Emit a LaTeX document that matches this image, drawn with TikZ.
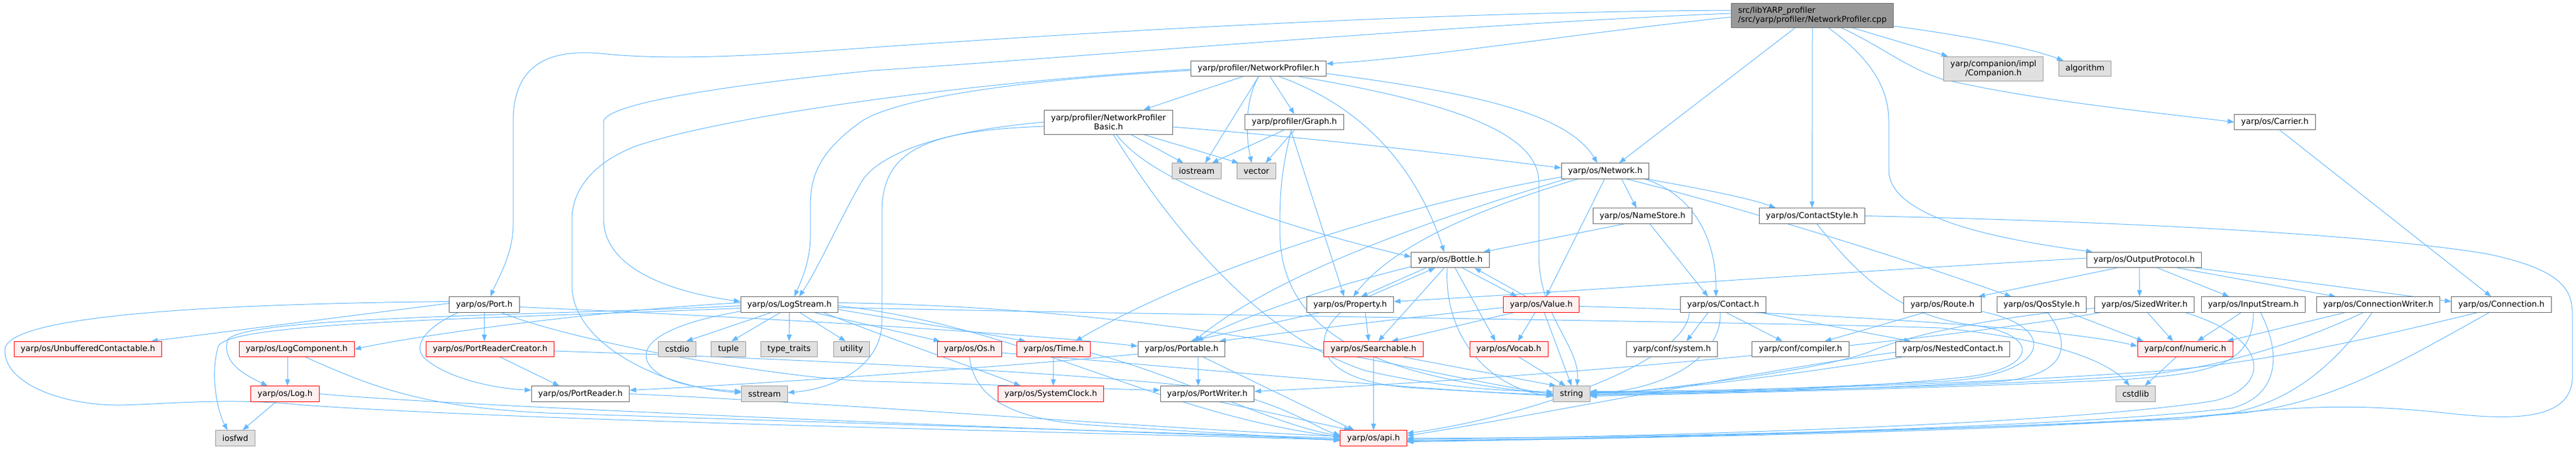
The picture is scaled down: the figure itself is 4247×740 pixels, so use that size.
\documentclass[tikz,border=0pt]{standalone}
\usepackage{fontspec}
\setmainfont{DejaVu Sans}
\usetikzlibrary{arrows.meta,calc}
\definecolor{edgec}{HTML}{63B8FF}
\definecolor{nbord}{HTML}{666666}
\definecolor{rfill}{HTML}{FFF0F0}
\definecolor{gfill}{HTML}{E0E0E0}
\definecolor{gbord}{HTML}{999999}
\definecolor{mfill}{HTML}{999999}
\pgfdeclarelayer{bg}
\pgfsetlayers{bg,main}
\begin{document}
\begin{tikzpicture}[x=0.75pt,y=-0.75pt,
 every node/.style={font=\fontsize{10}{11.5}\selectfont, inner xsep=8.25pt, inner ysep=0pt, minimum height=19pt, line width=0.75pt},
 nb/.style={draw=nbord, fill=white},
 rb/.style={draw=red, fill=rfill},
 gb/.style={draw=gbord, fill=gfill},
 mb/.style={draw=nbord, fill=mfill},
 two/.style={minimum height=30pt, align=center},
 e/.style={draw=edgec, line width=0.75pt, -{Triangle[length=8pt,width=6pt]}},
]
\useasboundingbox (0,0) rectangle (4247,740);
% row 0-5
\node[mb,two,align=left] (main) at (2988,25) {src/libYARP\_profiler\\/src/yarp/profiler/NetworkProfiler.cpp};
\node[gb,two] (comp) at (3286.5,113) {yarp/companion/impl\\/Companion.h};
\node[gb] (algo) at (3437.5,113) {algorithm};
\node[nb] (np) at (2075,113) {yarp/profiler/NetworkProfiler.h};
\node[nb,two] (npb) at (1827.5,201) {yarp/profiler/NetworkProfiler\\Basic.h};
\node[nb] (graph) at (2134,201) {yarp/profiler/Graph.h};
\node[nb] (carrier) at (3750.5,201) {yarp/os/Carrier.h};
\node[gb] (iostream) at (1973,281.5) {iostream};
\node[gb] (vector) at (2071.5,281.5) {vector};
\node[nb] (network) at (2646.5,281.5) {yarp/os/Network.h};
\node[nb] (namestore) at (2708,355.5) {yarp/os/NameStore.h};
\node[nb] (cstyle) at (2987.5,355.5) {yarp/os/ContactStyle.h};
\node[nb] (bottle) at (2391,428) {yarp/os/Bottle.h};
\node[nb] (outproto) at (3535,428) {yarp/os/OutputProtocol.h};
% row 6
\node[nb] (port) at (798.5,501.5) {yarp/os/Port.h};
\node[nb] (logstream) at (1301.5,501.5) {yarp/os/LogStream.h};
\node[nb] (property) at (2226,501.5) {yarp/os/Property.h};
\node[rb] (value) at (2541,501.5) {yarp/os/Value.h};
\node[nb] (contact) at (2841,501.5) {yarp/os/Contact.h};
\node[nb] (route) at (3202.5,501.5) {yarp/os/Route.h};
\node[nb] (qos) at (3366,501.5) {yarp/os/QosStyle.h};
\node[nb] (sizedw) at (3535.5,501.5) {yarp/os/SizedWriter.h};
\node[nb] (inputs) at (3715,501.5) {yarp/os/InputStream.h};
\node[nb] (connw) at (3921,501.5) {yarp/os/ConnectionWriter.h};
\node[nb] (conn) at (4124,501.5) {yarp/os/Connection.h};
% row 7
\node[rb] (unbuf) at (145,575) {yarp/os/UnbufferedContactable.h};
\node[rb] (logcomp) at (489,575) {yarp/os/LogComponent.h};
\node[rb] (prc) at (808,575) {yarp/os/PortReaderCreator.h};
\node[gb] (cstdio) at (1116.5,575) {cstdio};
\node[gb] (tuple) at (1201,575) {tuple};
\node[gb] (typetr) at (1301,575) {type\_traits};
\node[gb] (utility) at (1404,575) {utility};
\node[rb] (os) at (1598.5,575) {yarp/os/Os.h};
\node[rb] (time) at (1737,575) {yarp/os/Time.h};
\node[nb] (portable) at (1948,575) {yarp/os/Portable.h};
\node[rb] (searchable) at (2264.5,575) {yarp/os/Searchable.h};
\node[rb] (vocab) at (2487.5,575) {yarp/os/Vocab.h};
\node[nb] (confsys) at (2756.5,575) {yarp/conf/system.h};
\node[nb] (compiler) at (2968.5,575) {yarp/conf/compiler.h};
\node[nb] (nested) at (3219.5,575) {yarp/os/NestedContact.h};
\node[rb] (numeric) at (3602.7,575) {yarp/conf/numeric.h};
% row 8
\node[rb] (log) at (470,648.5) {yarp/os/Log.h};
\node[nb] (portreader) at (957,648.5) {yarp/os/PortReader.h};
\node[gb] (sstream) at (1260.5,648.5) {sstream};
\node[rb] (sysclock) at (1732.5,648.5) {yarp/os/SystemClock.h};
\node[nb] (portwriter) at (1990.5,648.5) {yarp/os/PortWriter.h};
\node[gb] (string) at (2591,648.5) {string};
\node[gb] (cstdlib) at (3521,648.5) {cstdlib};
% row 9
\node[gb] (iosfwd) at (388,721.5) {iosfwd};
\node[rb] (api) at (2264.5,721.5) {yarp/os/api.h};

\begin{pgfonlayer}{bg}
% main
\draw[e] ($(main.west)+(0,3)$) .. controls (2600,55) and (2350,95) .. ($(np.east)+(0,-8)$);
\draw[e] ($(main.west)+(0,-8)$) .. controls (2300,20) and (1700,60) .. (1440,78) .. controls (1250,92) and (1100,100) .. (990,88) .. controls (900,80) and (846,110) .. (846,200) -- (846,370) .. controls (846,420) and (820,460) .. ($(port.north)+(10,0)$);
\draw[e] ($(main.west)+(0,-3)$) .. controls (2400,40) and (1700,100) .. (1440,116) .. controls (1200,140) and (1000,170) .. (995,200) -- (995,360) .. controls (995,440) and (1100,480) .. ($(logstream.west)+(0,-5)$);
\draw[e] ($(main.south)+(-28,0)$) -- ($(network.north)+(23,0)$);
\draw[e] (main.south) -- (cstyle.north);
\draw[e] ($(main.south)+(65,0)$) -- ($(comp.north)+(-75,0)$);
\draw[e] ($(main.east)+(0,18)$) .. controls (3250,60) and (3350,80) .. ($(algo.north west)+(8,0)$);
\draw[e] ($(main.south)+(47,0)$) .. controls (3100,75) and (3140,110) .. (3201,130) .. controls (3350,165) and (3550,185) .. (carrier.west);
\draw[e] ($(main.south)+(26,0)$) .. controls (3090,100) and (3114,150) .. (3114,200) -- (3114,280) .. controls (3114,360) and (3300,395) .. ($(outproto.north west)+(10,0)$);
% np
\draw[e] ($(np.south)+(-26,0)$) -- ($(npb.north)+(58,0)$);
\draw[e] (np.south) -- ($(iostream.north)+(14,0)$);
\draw[e] (np.south) .. controls (2050,170) and (2055,230) .. ($(vector.north)+(-8,0)$);
\draw[e] ($(np.south)+(19,0)$) -- (graph.north);
\draw[e] ($(np.west)+(0,3)$) .. controls (1700,130) and (1480,160) .. (1420,200) .. controls (1350,250) and (1336,290) .. (1336,340) -- (1336,390) .. controls (1336,430) and (1320,465) .. ($(logstream.north)+(8,0)$);
\draw[e] ($(np.west)+(0,1)$) .. controls (1600,135) and (1200,190) .. (1050,240) .. controls (970,270) and (943,320) .. (943,360) -- (943,470) .. controls (943,570) and (1100,640) .. ($(sstream.west)+(0,-2)$);
\draw[e] ($(np.south)+(34,0)$) .. controls (2260,180) and (2340,290) .. ($(bottle.north)+(-10,0)$);
\draw[e] ($(np.east)+(0,8)$) .. controls (2400,150) and (2580,180) .. ($(network.north)+(-13,0)$);
\draw[e] ($(np.south)+(67,0)$) .. controls (2400,170) and (2537,220) .. (2537,300) -- (2537,420) .. controls (2537,520) and (2605,570) .. ($(string.north)+(9,0)$);
% npb
\draw[e] ($(npb.south)+(37,0)$) -- ($(iostream.north)+(-22,0)$);
\draw[e] ($(npb.south)+(58,0)$) -- ($(vector.north west)+(3,0)$);
\draw[e] (npb.west) .. controls (1560,215) and (1450,250) .. (1420,300) .. controls (1380,370) and (1350,440) .. ($(logstream.north)+(16,0)$);
\draw[e] ($(npb.west)+(0,7)$) .. controls (1520,215) and (1454,250) .. (1454,350) -- (1454,530) .. controls (1454,600) and (1380,640) .. ($(sstream.east)+(0,-2)$);
\draw[e] ($(npb.east)+(0,8)$) .. controls (2200,230) and (2400,255) .. ($(network.west)+(0,-5)$);
\draw[e] ($(npb.south)+(13,0)$) .. controls (1900,300) and (2100,370) .. ($(bottle.west)+(0,-5)$);
\draw[e] ($(npb.south)+(8,0)$) .. controls (1960,420) and (2100,560) .. (2250,610) .. controls (2380,640) and (2480,643) .. ($(string.west)+(0,-3)$);
% graph
\draw[e] ($(graph.south)+(-17,0)$) -- ($(iostream.north)+(25,0)$);
\draw[e] (graph.south) -- ($(vector.north)+(15,0)$);
\draw[e] ($(graph.south)+(-6,0)$) -- ($(property.north)+(-10,0)$);
\draw[e] ($(graph.south)+(-5,0)$) .. controls (2110,290) and (2110,330) .. (2110,380) .. controls (2110,540) and (2250,620) .. (string.west);
% carrier
\draw[e] ($(carrier.south)+(8,0)$) -- ($(conn.north)+(-17,0)$);
% network
\draw[e] ($(network.south)+(27,0)$) -- ($(namestore.north)+(-10,0)$);
\draw[e] ($(network.south)+(-1,0)$) -- ($(value.north)+(8,0)$);
\draw[e] ($(network.south)+(-45,0)$) .. controls (2450,340) and (2300,400) .. ($(property.north)+(5,0)$);
\draw[e] ($(network.south)+(-65,0)$) .. controls (2400,350) and (2120,440) .. ($(portable.north)+(20,0)$);
\draw[e] ($(network.west)+(0,10)$) .. controls (2350,330) and (2000,430) .. ($(time.north)+(36,0)$);
\draw[e] ($(network.south east)+(-5,0)$) .. controls (2800,310) and (2880,325) .. ($(cstyle.north)+(-60,0)$);
\draw[e] ($(network.south)+(35,0)$) .. controls (2900,350) and (3150,430) .. ($(qos.north)+(-50,0)$);
\draw[e] ($(network.south east)+(-8,0)$) .. controls (2790,320) and (2830,390) .. ($(contact.north)+(-12,0)$);
% namestore
\draw[e] ($(namestore.south)+(-30,0)$) -- ($(bottle.north east)+(-10,0)$);
\draw[e] ($(namestore.south)+(12,0)$) -- ($(contact.north)+(-25,0)$);
% cstyle
\draw[e] ($(cstyle.south)+(8,0)$) .. controls (3060,450) and (3130,520) .. (3250,535) .. controls (3370,550) and (3360,610) .. (3230,622) .. controls (3000,645) and (2750,648) .. ($(string.east)+(0,-2)$);
\draw[e] (cstyle.east) .. controls (3500,365) and (3900,385) .. (4100,418) .. controls (4230,445) and (4241,480) .. (4241,520) -- (4241,620) .. controls (4241,690) and (4150,692) .. (4050,682) .. controls (3920,668) and (3820,662) .. (3600,690) .. controls (3100,712) and (2600,722) .. (api.east);
% outproto
\draw[e] ($(outproto.west)+(0,-3)$) .. controls (3000,450) and (2600,480) .. ($(property.east)+(0,-5)$);
\draw[e] ($(outproto.south)+(-45,0)$) -- ($(route.north east)+(-5,0)$);
\draw[e] ($(outproto.south)+(-8,0)$) -- ($(sizedw.north)+(-8,0)$);
\draw[e] ($(outproto.south)+(22,0)$) -- ($(inputs.north)+(-40,0)$);
\draw[e] ($(outproto.south)+(55,0)$) -- ($(connw.north)+(-70,0)$);
\draw[e] ($(outproto.south east)+(-10,0)$) -- ($(conn.west)+(0,-5)$);
% port
\draw[e] ($(port.west)+(0,-2)$) -- ($(unbuf.north east)+(-18,0)$);
\draw[e] (port.south) -- ($(prc.north)+(-9.5,0)$);
\draw[e] ($(port.west)+(0,-5)$) .. controls (400,500) and (15,515) .. (8,575) .. controls (5,630) and (100,668) .. (200,667) .. controls (300,664) and (380,655) .. (500,667) .. controls (900,695) and (1800,712) .. ($(api.west)+(0,3)$);
\draw[e] ($(port.south west)+(15,0)$) .. controls (700,540) and (680,570) .. (700,590) .. controls (740,625) and (820,640) .. ($(portreader.west)+(0,-6)$);
\draw[e] ($(port.south east)+(-30,0)$) .. controls (950,565) and (1300,625) .. (1440,628) .. controls (1600,632) and (1800,640) .. ($(portwriter.west)+(0,-6)$);
\draw[e] ($(port.east)+(0,4)$) .. controls (1300,525) and (1700,550) .. ($(portable.west)+(0,-5)$);
% logstream
\draw[e] ($(logstream.south)+(-30,0)$) -- ($(cstdio.north)+(15,0)$);
\draw[e] ($(logstream.south)+(-15,0)$) -- ($(tuple.north)+(5,0)$);
\draw[e] (logstream.south) -- (typetr.north);
\draw[e] ($(logstream.south)+(17,0)$) -- ($(utility.north)+(-10,0)$);
\draw[e] ($(logstream.south west)+(0,-2)$) .. controls (1090,535) and (1050,570) .. (1070,600) .. controls (1090,630) and (1150,640) .. ($(sstream.west)+(0,-4)$);
\draw[e] ($(logstream.west)+(0,-3)$) .. controls (1000,510) and (700,550) .. (logcomp.east);
\draw[e] ($(logstream.west)+(0,2)$) .. controls (900,520) and (400,520) .. (375,560) .. controls (365,600) and (410,620) .. ($(log.north)+(-29,0)$);
\draw[e] ($(logstream.west)+(0,6)$) .. controls (800,525) and (380,530) .. (360,570) .. controls (345,620) and (360,680) .. ($(iosfwd.north)+(-13,0)$);
\draw[e] ($(logstream.south east)+(-40,0)$) -- ($(os.north west)+(5,0)$);
\draw[e] ($(logstream.east)+(0,8)$) .. controls (1500,530) and (1600,545) .. ($(time.north west)+(15,0)$);
\draw[e] ($(logstream.south east)+(-25,0)$) .. controls (1500,570) and (1620,610) .. ($(sysclock.north)+(-50,0)$);
\draw[e] ($(logstream.east)+(0,-3)$) .. controls (1800,505) and (2100,560) .. (2300,600) .. controls (2420,625) and (2500,640) .. ($(string.west)+(0,1)$);
\draw[e] ($(logstream.east)+(0,2)$) .. controls (1700,540) and (1900,680) .. ($(api.west)+(0,-2)$);
\draw[e] ($(logstream.east)+(0,5)$) .. controls (2000,520) and (2900,530) .. (3200,540) .. controls (3400,560) and (3480,600) .. ($(cstdlib.north)+(-10,0)$);
% logcomp, log
\draw[e] ($(logcomp.south)+(-15,0)$) -- ($(log.north)+(4,0)$);
\draw[e] ($(logcomp.south)+(15,0)$) .. controls (620,640) and (700,670) .. (900,680) .. controls (1500,700) and (1900,712) .. (api.west);
\draw[e] ($(log.south)+(-15,0)$) -- ($(iosfwd.north)+(12,0)$);
\draw[e] (log.east) .. controls (700,665) and (1500,700) .. ($(api.west)+(0,2)$);
% prc, portreader
\draw[e] ($(prc.south)+(17,0)$) -- ($(portreader.north)+(-35,0)$);
\draw[e] ($(prc.east)+(0,3)$) .. controls (1300,590) and (1800,615) .. (2000,640) .. controls (2120,665) and (2170,705) .. ($(api.west)+(0,-5)$);
\draw[e] (portreader.east) .. controls (1400,665) and (1900,705) .. ($(api.west)+(0,-3)$);
% portable, portwriter
\draw[e] ($(portable.south)+(27,0)$) -- ($(portwriter.north)+(-15,0)$);
\draw[e] ($(portable.west)+(0,8)$) .. controls (1700,600) and (1300,630) .. ($(portreader.east)+(0,-6)$);
\draw[e] ($(portable.south)+(36,0)$) -- ($(api.north)+(-32,0)$);
\draw[e] ($(portwriter.south)+(20,0)$) -- ($(api.north)+(-38,0)$);
% time, os
\draw[e] (time.south) -- ($(sysclock.north)+(4,0)$);
\draw[e] ($(time.east)+(0,6)$) .. controls (1950,620) and (2100,700) .. ($(api.west)+(0,-4)$);
\draw[e] (os.south) .. controls (1605,645) and (1650,690) .. (1800,700) .. controls (1950,710) and (2100,718) .. ($(api.west)+(0,4)$);
\draw[e] ($(os.east)+(0,6)$) .. controls (1900,600) and (2300,640) .. ($(string.west)+(0,3)$);
% property, bottle
\draw[e] ($(property.north)+(30,0)$) -- ($(bottle.south)+(-25,0)$);
\draw[e] ($(bottle.south)+(-40,0)$) -- ($(property.north)+(18,0)$);
\draw[e] ($(property.south)+(25,0)$) -- ($(searchable.north)+(-8,0)$);
\draw[e] ($(property.south)+(-16,0)$) .. controls (2160,560) and (2170,625) .. (2320,638) .. controls (2430,645) and (2500,648) .. ($(string.west)+(0,2)$);
\draw[e] ($(property.south)+(-50,0)$) -- ($(portable.north)+(15,0)$);
\draw[e] ($(bottle.south)+(-10,0)$) -- ($(searchable.north)+(8,0)$);
\draw[e] ($(bottle.south)+(20,0)$) -- ($(value.north)+(-40,0)$);
\draw[e] ($(bottle.south)+(8,0)$) -- ($(vocab.north)+(-22,0)$);
\draw[e] ($(bottle.south)+(-5,0)$) .. controls (2380,560) and (2460,640) .. ($(string.west)+(0,4)$);
\draw[e] ($(bottle.south west)+(0,-2)$) .. controls (2200,470) and (2050,520) .. ($(portable.north)+(25,0)$);
% value
\draw[e] ($(value.north)+(-25,0)$) -- ($(bottle.south)+(40,0)$);
\draw[e] ($(value.south)+(-45,0)$) -- ($(searchable.north)+(30,0)$);
\draw[e] ($(value.south)+(-10,0)$) -- ($(vocab.north)+(15,0)$);
\draw[e] ($(value.south)+(5,0)$) -- (string.north);
\draw[e] ($(value.west)+(0,5)$) .. controls (2300,525) and (2100,550) .. ($(portable.north east)+(-10,0)$);
\draw[e] ($(value.east)+(0,3)$) .. controls (3000,515) and (3400,540) .. ($(numeric.west)+(0,-5)$);
% searchable, vocab
\draw[e] (searchable.south) -- (api.north);
\draw[e] ($(searchable.south)+(50,0)$) -- ($(string.north west)+(5,0)$);
\draw[e] ($(vocab.south)+(17,0)$) -- ($(string.north)+(-10,0)$);
% contact
\draw[e] ($(contact.south)+(-25,0)$) -- ($(confsys.north)+(24,0)$);
\draw[e] ($(contact.south)+(5,0)$) -- ($(compiler.north)+(-30,0)$);
\draw[e] ($(contact.south east)+(-10,0)$) -- ($(nested.north west)+(25,0)$);
\draw[e] ($(contact.south)+(-5,0)$) .. controls (2840,580) and (2760,640) .. (string.east);
\draw[e] ($(contact.south west)+(15,0)$) .. controls (2780,600) and (2500,690) .. ($(api.east)+(0,-8)$);
% route, qos
\draw[e] ($(route.south)+(-30,0)$) -- ($(compiler.north)+(40,0)$);
\draw[e] ($(route.south east)+(0,-2)$) .. controls (3400,540) and (3380,620) .. (3200,628) .. controls (2950,640) and (2750,648) .. ($(string.east)+(0,1)$);
\draw[e] ($(qos.south)+(10,0)$) .. controls (3410,560) and (3420,615) .. (3300,628) .. controls (3000,645) and (2750,648) .. ($(string.east)+(0,2)$);
\draw[e] ($(qos.south)+(45,0)$) -- ($(numeric.north west)+(10,0)$);
% sizedw
\draw[e] ($(sizedw.south)+(5,0)$) -- ($(numeric.north)+(-20,0)$);
\draw[e] ($(sizedw.west)+(0,6)$) .. controls (3300,520) and (3150,550) .. (3080,580) .. controls (3000,610) and (2750,640) .. ($(string.east)+(0,3)$);
\draw[e] ($(sizedw.south east)+(-15,0)$) .. controls (3750,560) and (3740,640) .. (3650,660) .. controls (3400,700) and (2700,720) .. ($(api.east)+(0,2)$);
\draw[e] ($(sizedw.south west)+(10,0)$) .. controls (3200,560) and (2600,620) .. ($(portwriter.east)+(0,-4)$);
% inputs
\draw[e] ($(inputs.south)+(-20,0)$) -- ($(numeric.north)+(20,0)$);
\draw[e] (inputs.south) .. controls (3715,600) and (3650,615) .. (3500,625) .. controls (3200,640) and (2800,648) .. ($(string.east)+(0,4)$);
\draw[e] ($(inputs.south)+(12,0)$) .. controls (3760,580) and (3760,650) .. (3680,672) .. controls (3400,705) and (2700,722) .. ($(api.east)+(0,4)$);
% connw
\draw[e] ($(connw.south)+(-55,0)$) -- ($(numeric.north east)+(-10,0)$);
\draw[e] ($(connw.south)+(-25,0)$) .. controls (3800,560) and (3650,612) .. (3500,620) .. controls (3200,640) and (2800,646) .. ($(string.east)+(0,-3)$);
\draw[e] ($(connw.south)+(-10,0)$) .. controls (3850,600) and (3780,660) .. (3680,680) .. controls (3400,710) and (2700,722) .. ($(api.east)+(0,5)$);
% conn
\draw[e] ($(conn.south)+(-40,0)$) .. controls (3900,560) and (3700,605) .. (3500,615) .. controls (3200,635) and (2800,645) .. ($(string.east)+(0,-4)$);
\draw[e] ($(conn.south)+(-20,0)$) .. controls (3950,600) and (3850,660) .. (3700,680) .. controls (3400,705) and (2700,722) .. ($(api.east)+(0,6)$);
% numeric, nested
\draw[e] ($(numeric.south)+(-15,0)$) -- ($(cstdlib.north)+(15,0)$);
\draw[e] ($(nested.west)+(0,5)$) .. controls (2900,610) and (2500,690) .. ($(api.east)+(0,-4)$);
\draw[e] ($(nested.south west)+(10,0)$) .. controls (3000,610) and (2750,645) .. ($(string.east)+(0,-1)$);
\end{pgfonlayer}
\end{tikzpicture}
\end{document}
